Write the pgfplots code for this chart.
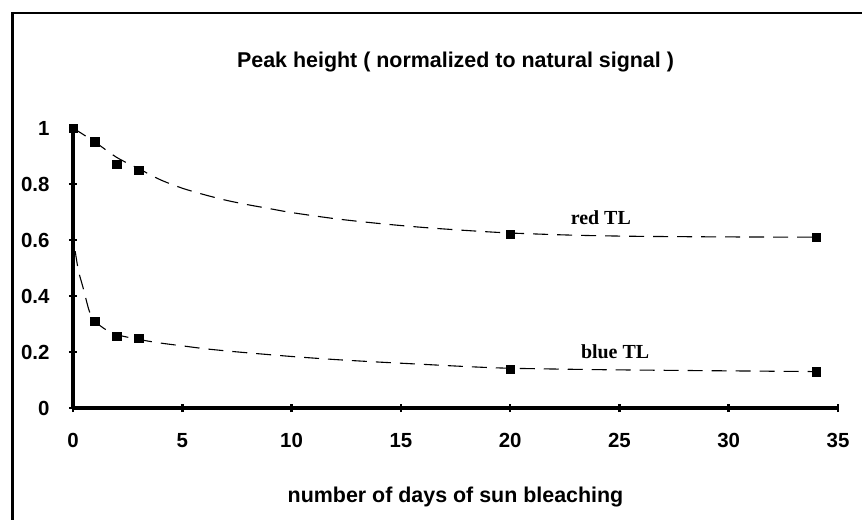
\documentclass[border=0pt]{standalone}
\usepackage{pgfplots}
\pgfplotsset{compat=1.18}
\usepackage{fontspec}
\setmainfont{Liberation Sans}
\newfontfamily\seriffont{Liberation Serif}
\begin{document}
\begin{tikzpicture}
\useasboundingbox (0bp,0bp) rectangle (862bp,520bp);
\draw[line width=2.5bp] (12.5bp,0bp) -- (12.5bp,507bp) -- (862bp,507bp);
\begin{axis}[
  at={(73bp,112bp)}, anchor=south west,
  scale only axis, width=765bp, height=280bp,
  xmin=0, xmax=35, ymin=0, ymax=1,
  axis lines*=left,
  axis line style={line width=3.5bp, black},
  xtick={0,5,10,15,20,25,30,35},
  xticklabels={0,5,10,15,20,25,30,35},
  ytick={0,0.2,0.4,0.6,0.8,1},
  yticklabels={0,0.2,0.4,0.6,0.8,1},
  tick align=center, major tick length=8bp,
  tick style={line width=2.5bp, black},
  ticklabel style={font=\bfseries\fontsize{20.5}{21}\selectfont, text height=15bp, text depth=0bp},
  xticklabel shift=17bp,
  yticklabel shift=16bp,
  title={Peak height ( normalized to natural signal )},
  title style={font=\bfseries\fontsize{21.5}{23}\selectfont, at={(axis description cs:0.5,1.214)}, anchor=center},
  xlabel={number of days of sun bleaching},
  xlabel style={font=\bfseries\fontsize{21.5}{23}\selectfont, at={(axis description cs:0.5,-0.318)}, anchor=center},
  clip=false,
]
% fitted trend curves
\addplot[black, line width=1.1bp, dash pattern=on 15bp off 9bp, smooth] coordinates {
(0,1.000) (1,0.950) (2,0.895) (3,0.855) (4,0.815) (5,0.785) (6,0.762) (7,0.742)
(8,0.726) (9,0.712) (10,0.698) (12,0.676) (14,0.659) (16,0.645) (18,0.634)
(20,0.625) (23,0.617) (26,0.613) (30,0.611) (34,0.610)};
\addplot[black, line width=1.1bp, dash pattern=on 15bp off 9bp, smooth] coordinates {
(0.1,0.56) (0.25,0.49) (0.45,0.433) (0.75,0.345) (1,0.31) (1.5,0.28) (2,0.262)
(3,0.245) (4,0.232) (5,0.222) (6,0.212) (7,0.204) (8,0.197) (10,0.184)
(12,0.173) (14,0.164) (16,0.156) (18,0.148) (20,0.142) (24,0.137) (28,0.134) (34,0.130)};
% red TL
\addplot[only marks, mark=square*, mark size=4.2bp, black] coordinates {
(0,1) (1,0.951) (2,0.87) (3,0.849) (20,0.62) (34,0.61)};
% blue TL
\addplot[only marks, mark=square*, mark size=4.2bp, black] coordinates {
(1,0.31) (2,0.257) (3,0.249) (20,0.139) (34,0.13)};
\node[font=\seriffont\bfseries\fontsize{20}{20}\selectfont] at (axis cs:24.15,0.679) {red TL};
\node[font=\seriffont\bfseries\fontsize{20}{20}\selectfont] at (axis cs:24.8,0.2) {blue TL};
\end{axis}
\end{tikzpicture}
\end{document}
